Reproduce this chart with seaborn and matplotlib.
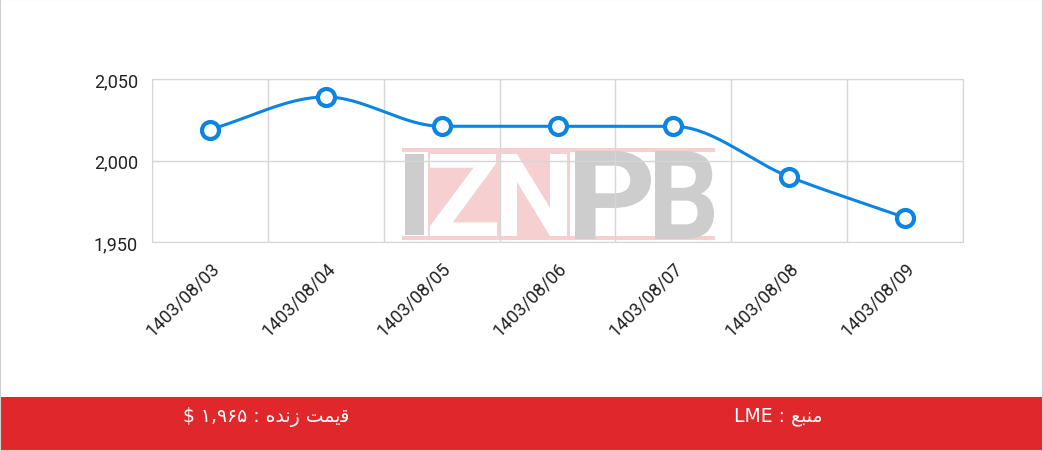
import numpy as np
import pandas as pd
import matplotlib
matplotlib.use("Agg")
import matplotlib.pyplot as plt
import seaborn as sb
from matplotlib.patches import Rectangle, PathPatch
from matplotlib.textpath import TextPath
from matplotlib.font_manager import FontProperties
from matplotlib.transforms import Affine2D

dates = ["1403/08/03", "1403/08/04", "1403/08/05", "1403/08/06",
         "1403/08/07", "1403/08/08", "1403/08/09"]
prices = [2019, 2039, 2021, 2021, 2021, 1990, 1965]
y_ticks = [1950, 2000, 2050]

# متن پایین نمودار (اشکال نمایشی حروف، ترتیب دیداری)
live_label = "$ \u06F1,\u06F9\u06F6\u06F5 : \uFEE9\uFEAA\uFEE7\uFEAF \uFE96\uFEE4\uFBFE\uFED7"
source_label = "LME : \uFECA\uFE92\uFEE8\uFEE3"

blue = "#0b84e2"
grid_c = "#d6d6d6"
red = "#e0282c"
pink = "#f6d0d1"
wm_grey = "#cdcdcd"


def monotone(x, y, n=40):
    # منحنی نرم یکنوا (Fritsch-Carlson) فقط برای رسم خط
    x = np.asarray(x, float)
    y = np.asarray(y, float)
    h = np.diff(x)
    d = np.diff(y) / h
    m = np.zeros_like(y)
    m[0], m[-1] = d[0], d[-1]
    for i in range(1, len(y) - 1):
        if d[i - 1] * d[i] <= 0:
            m[i] = 0
        else:
            m[i] = 3 * (h[i - 1] + h[i]) / ((2 * h[i] + h[i - 1]) / d[i - 1] + (h[i] + 2 * h[i - 1]) / d[i])
    xs, ys = [], []
    for i in range(len(x) - 1):
        t = np.linspace(0, 1, n)
        h00 = 2 * t**3 - 3 * t**2 + 1
        h10 = t**3 - 2 * t**2 + t
        h01 = -2 * t**3 + 3 * t**2
        h11 = t**3 - t**2
        xs.append(x[i] + t * h[i])
        ys.append(h00 * y[i] + h10 * h[i] * m[i] + h01 * y[i + 1] + h11 * h[i] * m[i + 1])
    return np.concatenate(xs), np.concatenate(ys)


# پیکسل به مختصات محور
AX_L, AX_R, AX_T, AX_B = 152, 963, 80, 243


def px_box(x0, x1, y0, y1):
    w = AX_R - AX_L
    h = AX_B - AX_T
    return ((x0 - AX_L) / w, (AX_B - y1) / h, (x1 - x0) / w, (y1 - y0) / h)


def fit_text(ax, s, x0, x1, y0, y1, color):
    tp = TextPath((0, 0), s, size=100,
                  prop=FontProperties(family="Roboto", weight="bold"))
    ext = tp.get_extents()
    bx, by, bw, bh = px_box(x0, x1, y0, y1)
    tr = (Affine2D().translate(-ext.x0, -ext.y0)
          .scale(bw / ext.width, bh / ext.height).translate(bx, by))
    ax.add_patch(PathPatch(tr.transform_path(tp), transform=ax.transAxes,
                           facecolor=color, edgecolor="none", zorder=0.5))


def fill_box(ax, x0, x1, y0, y1, color):
    bx, by, bw, bh = px_box(x0, x1, y0, y1)
    ax.add_patch(Rectangle((bx, by), bw, bh, transform=ax.transAxes,
                           facecolor=color, edgecolor="none", zorder=0))


df = pd.DataFrame({"pos": np.arange(len(dates)), "price": prices})
cx, cy = monotone(df["pos"], df["price"])
curve = pd.DataFrame({"pos": cx, "price": cy})

sb.set_style("white")
plt.rcParams["font.family"] = ["Roboto", "DejaVu Sans"]

fig = plt.figure(figsize=(10.43, 4.52), dpi=100)
fig.patch.set_facecolor("white")
fig.patches.append(Rectangle((0, 0), 1, 54 / 452, transform=fig.transFigure,
                             facecolor=red, edgecolor="none", zorder=0))
fig.patches.append(Rectangle((0, 0), 1, 1, transform=fig.transFigure,
                             facecolor="none", edgecolor="#d0d0d0", lw=1.5, zorder=5))

ax = fig.add_axes([AX_L / 1043, 1 - AX_B / 452, (AX_R - AX_L) / 1043, (AX_B - AX_T) / 452])

# watermark
fill_box(ax, 428, 570, 151, 241, pink)
fill_box(ax, 402, 715, 149, 153, pink)
fill_box(ax, 402, 715, 237, 241, pink)
fill_box(ax, 405, 424, 155, 236, wm_grey)
fit_text(ax, "Z", 430, 497, 155, 237, "white")
fit_text(ax, "N", 500, 567, 155, 237, "white")
fit_text(ax, "P", 575, 651, 152, 240, wm_grey)
fit_text(ax, "B", 655, 714, 152, 240, wm_grey)

sb.lineplot(data=curve, x="pos", y="price", color=blue, lw=2.2, ax=ax, zorder=3)
sb.scatterplot(data=df, x="pos", y="price", s=150, facecolor="white",
               edgecolor=blue, linewidth=3, ax=ax, zorder=4)

ax.set_xlim(-0.5, len(dates) - 0.5)
ax.set_ylim(1950, 2050)
ax.set_yticks(y_ticks)
ax.set_yticklabels([f"{v:,}" for v in y_ticks], fontsize=13, color="#222222")
ax.set_xticks(df["pos"])
ax.set_xticklabels(dates, rotation=45, ha="right", rotation_mode="anchor",
                   fontsize=13, color="#222222")
ax.set_xticks(np.arange(-0.5, len(dates), 1), minor=True)
ax.grid(which="minor", axis="x", color=grid_c, lw=1)
ax.grid(which="major", axis="y", color=grid_c, lw=1)
ax.tick_params(axis="y", which="both", length=0, pad=10)
ax.tick_params(axis="x", which="both", length=0, pad=12)
ax.set_xlabel("")
ax.set_ylabel("")
for s in ax.spines.values():
    s.set_color(grid_c)
ax.set_facecolor("none")

fig.text(266 / 1043, 35 / 452, live_label, color="white", fontsize=13.5,
         family=["DejaVu Sans"], ha="center", va="center")
fig.text(778 / 1043, 35 / 452, source_label, color="white", fontsize=13.5,
         family=["DejaVu Sans"], ha="center", va="center")

fig.savefig("out.png", dpi=100)
